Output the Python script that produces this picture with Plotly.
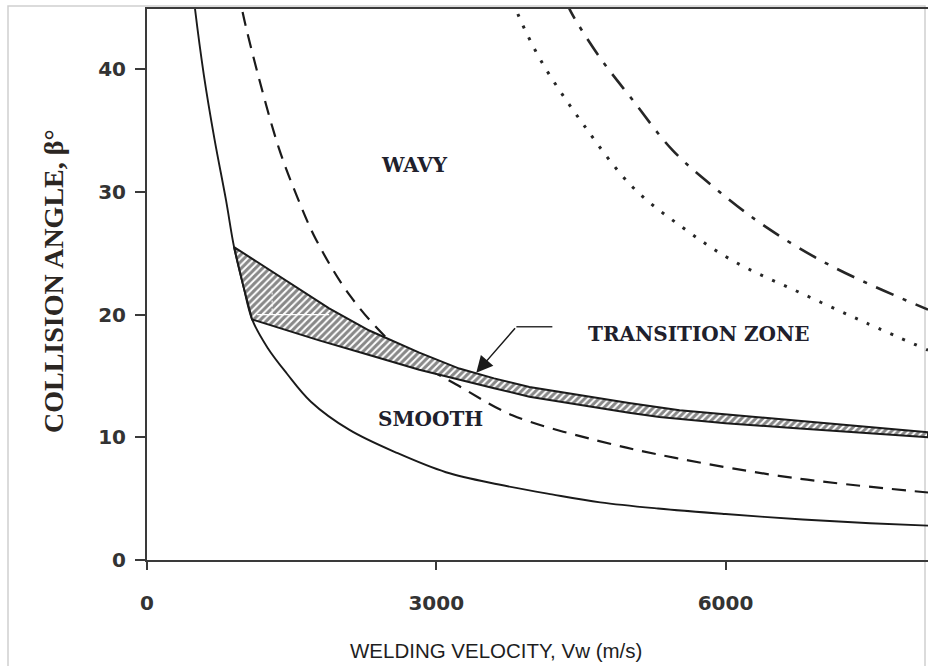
import plotly.graph_objects as go

# ---------------- data ----------------
# lower solid boundary (smooth limit)
solid_v = [480, 498, 590, 700, 820, 903, 1000, 1090, 1250, 1450, 1700, 2100, 2600, 3100, 3650, 4200, 4700, 5300, 6000, 6800, 7500, 8100]
solid_b = [46.2, 44.9, 39.5, 34.3, 29.3, 25.5, 22.3, 19.6, 17.3, 15.2, 12.9, 10.6, 8.7, 7.15, 6.15, 5.35, 4.7, 4.2, 3.75, 3.3, 3.0, 2.8]

# dashed curve
dashed_v = [950, 990, 1163, 1370, 1547, 1754, 2100, 2512, 2850, 3208, 3789, 4661, 5492, 6696, 8100]
dashed_b = [46.5, 44.7, 39.2, 33.5, 29.8, 26.1, 21.6, 17.9, 15.9, 14.3, 11.8, 9.75, 8.3, 6.7, 5.5]

# dotted curve
dotted_v = [3800, 3862, 4100, 4516, 5035, 5554, 6073, 6768, 7464, 8100]
dotted_b = [45.5, 44.2, 40.5, 35.6, 30.4, 27.1, 24.4, 21.8, 19.3, 17.1]

# dash-dot curve
dashdot_v = [4350, 4401, 4692, 5035, 5450, 5907, 6426, 7111, 8100]
dashdot_b = [45.5, 44.6, 41.0, 37.5, 33.4, 30.2, 27.1, 23.9, 20.4]

# transition zone edges
band_upper_v = [903, 1443, 1889, 2305, 2824, 3239, 3600, 3966, 4500, 4999, 5523, 6100, 6696, 7400, 8100]
band_upper_b = [25.5, 22.8, 20.5, 18.7, 16.9, 15.6, 14.8, 14.1, 13.4, 12.8, 12.2, 11.8, 11.4, 10.9, 10.4]
band_lower_v = [1090, 1785, 2305, 2824, 3239, 3600, 3966, 4500, 4999, 5315, 6000, 6696, 7400, 8100]
band_lower_b = [19.6, 17.9, 16.7, 15.5, 14.7, 14.0, 13.3, 12.6, 12.0, 11.65, 11.15, 10.75, 10.35, 10.0]

# faint white guide lines inside the hatched zone
white_h_v = [1142, 1889]
white_h_b = [20.0, 20.0]
white_v_v = [1298, 1298]
white_v_b = [20.0, 22.2]

# arrow leader for the "TRANSITION ZONE" label
leader_v = [4204, 3831]
leader_b = [19.0, 19.0]
arrow_tip = (3415, 15.25)

labels = [("WAVY", 2772, 32.2), ("SMOOTH", 2938, 11.45), ("TRANSITION ZONE", 5720, 18.45)]

x_ticks = [0, 3000, 6000]
y_ticks = [0, 10, 20, 30, 40]

# ---------------- figure ----------------
fig = go.Figure()
INK = "#1a1a1a"

fig.add_trace(go.Scatter(x=dashed_v, y=dashed_b, mode="lines",
                         line=dict(color=INK, width=2.2, dash="14px,9px", shape="spline")))
fig.add_trace(go.Scatter(x=dotted_v, y=dotted_b, mode="lines",
                         line=dict(color="#262626", width=3, dash="3px,10px", shape="spline")))
fig.add_trace(go.Scatter(x=dashdot_v, y=dashdot_b, mode="lines",
                         line=dict(color="#262626", width=2.6, dash="19px,10px,4px,10px", shape="spline")))
fig.add_trace(go.Scatter(x=solid_v, y=solid_b, mode="lines",
                         line=dict(color=INK, width=1.9, shape="spline")))

# hatched transition zone polygon
mid_solid = [(v, b) for v, b in zip(solid_v, solid_b) if band_upper_v[0] < v < band_lower_v[0]][::-1]
poly_v = band_upper_v + band_lower_v[::-1] + [p[0] for p in mid_solid] + [band_upper_v[0]]
poly_b = band_upper_b + band_lower_b[::-1] + [p[1] for p in mid_solid] + [band_upper_b[0]]
fig.add_trace(go.Scatter(x=poly_v, y=poly_b, mode="lines", fill="toself",
                         fillcolor="white",
                         fillpattern=dict(shape="/", fgcolor="#111111", bgcolor="#ffffff",
                                          size=5, solidity=0.6),
                         line=dict(color=INK, width=2)))
fig.add_trace(go.Scatter(x=white_h_v, y=white_h_b, mode="lines",
                         line=dict(color="white", width=1.3)))
fig.add_trace(go.Scatter(x=white_v_v, y=white_v_b, mode="lines",
                         line=dict(color="white", width=1, dash="2px,2px")))
fig.add_trace(go.Scatter(x=leader_v, y=leader_b, mode="lines",
                         line=dict(color="#333333", width=1.5)))

fig.add_annotation(x=arrow_tip[0], y=arrow_tip[1], ax=leader_v[1], ay=leader_b[1],
                   xref="x", yref="y", axref="x", ayref="y", text="",
                   showarrow=True, arrowhead=2, arrowsize=2.2, arrowwidth=1.5, arrowcolor="#1a1a1a")

for txt, vx, by in labels:
    fig.add_annotation(x=vx, y=by, xref="x", yref="y", text=txt, showarrow=False,
                       font=dict(family="DejaVu Serif", size=20, color="#20202c", weight="bold"),
                       xanchor="center", yanchor="middle")

# axis titles
fig.add_annotation(x=(496 - 147) / 781, y=(560 - 650) / 551, xref="paper", yref="paper",
                   text="WELDING VELOCITY, Vw (m/s)", showarrow=False,
                   font=dict(family="Liberation Sans", size=20.5, color="#1e1e1e"),
                   xanchor="center", yanchor="middle")
fig.add_annotation(x=(53 - 147) / 781, y=(560 - 281) / 551, xref="paper", yref="paper",
                   text="COLLISION ANGLE, β°", showarrow=False, textangle=-90,
                   font=dict(family="Liberation Serif", size=28, color="#2b2622", weight="bold"),
                   xanchor="center", yanchor="middle")

# outer light frame of the picture
fig.add_shape(type="rect", xref="paper", yref="paper",
              x0=(8 - 147) / 781, x1=(925 - 147) / 781, y0=(560 - 720) / 551, y1=(560 - 6) / 551,
              line=dict(color="#cfcfcf", width=1.5), layer="below")

axis_common = dict(showgrid=False, zeroline=False, showline=True, linecolor="#3a3a3a", linewidth=2,
                   ticks="outside", tickwidth=2, tickcolor="#3a3a3a",
                   tickfont=dict(family="DejaVu Sans", size=20, color="#333333", weight="bold"))
fig.update_xaxes(range=[0, 8100], tickvals=x_ticks, ticklen=8, mirror=True,
                 ticklabelstandoff=16, **axis_common)
fig.update_yaxes(range=[0, 44.9], tickvals=y_ticks, ticklen=10,
                 ticklabelstandoff=5, **axis_common)

fig.update_layout(width=928, height=666, margin=dict(l=147, r=0, t=9, b=106),
                  paper_bgcolor="white", plot_bgcolor="white", showlegend=False,
                  hovermode=False)

fig.write_html("out.html")
